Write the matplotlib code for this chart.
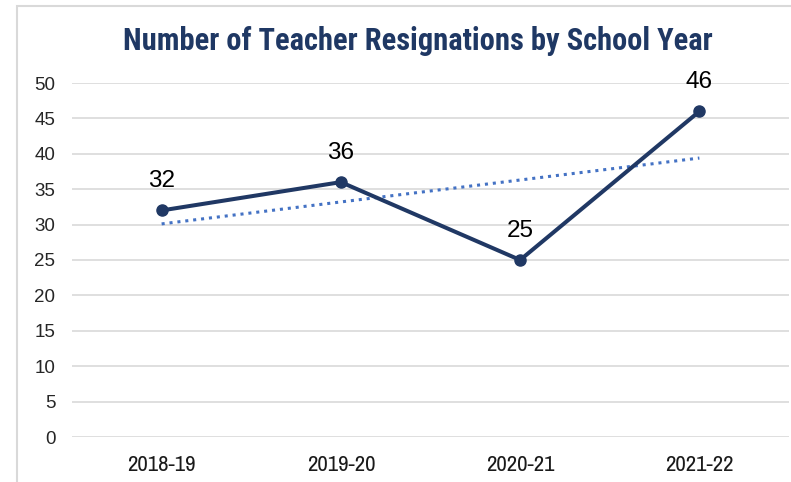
import matplotlib
matplotlib.use("Agg")
import matplotlib.pyplot as plt
from matplotlib.patches import Rectangle
import numpy as np

categories = ["2018-19", "2019-20", "2020-21", "2021-22"]
resignations = [32, 36, 25, 46]
yticks = [0, 5, 10, 15, 20, 25, 30, 35, 40, 45, 50]
title = "Number of Teacher Resignations by School Year"

NARROW = ["Archivo Narrow", "Roboto Condensed", "Asap Condensed", "DejaVu Sans"]
TITLEF = ["Roboto Condensed", "Asap Condensed", "DejaVu Sans"]
SANS = ["Liberation Sans", "DejaVu Sans"]

W, H = 791, 482
fig = plt.figure(figsize=(W / 100, H / 100), dpi=100)
fig.patch.set_facecolor("white")

# outer chart border
fig.add_artist(Rectangle((17 / W, -0.05), 1.2, 1 - 6 / H + 0.05, transform=fig.transFigure,
                         fill=False, edgecolor="#d9d9d9", linewidth=1.5))

ax = fig.add_axes([72 / W, 1 - 437 / H, 717 / W, 354 / H])
x = np.arange(len(categories))

ax.set_xlim(-0.5, len(categories) - 0.5)
ax.set_ylim(0, 50)
ax.set_yticks(yticks)
ax.set_xticks(x)
ax.set_xticklabels(categories)
ax.grid(axis="y", color="#d9d9d9", linewidth=1.2)
ax.set_axisbelow(True)
for s in ax.spines.values():
    s.set_visible(False)
ax.tick_params(axis="both", length=0)
ax.tick_params(axis="y", pad=12, labelsize=13.5, labelcolor="#262626")
for lbl in ax.get_yticklabels():
    lbl.set_fontfamily(SANS)
ax.tick_params(axis="x", pad=13, labelsize=16.5, labelcolor="#1a1a1a")
for lbl in ax.get_xticklabels():
    lbl.set_fontfamily(NARROW)

# trendline
coef = np.polyfit(x, resignations, 1)
ax.plot(x, np.polyval(coef, x), linestyle=(0, (1, 1.6)), color="#4472c4",
        linewidth=2.2, zorder=2)

ax.plot(x, resignations, color="#203864", linewidth=2.9, marker="o",
        markersize=8, zorder=3)

for xi, v in zip(x, resignations):
    ax.annotate(str(v), (xi, v), xytext=(0, 13), textcoords="offset points",
                ha="center", va="bottom", fontsize=17.5, color="#000000",
                family=SANS)

fig.text(418 / W, 1 - 41 / H, title, ha="center", va="center",
         fontsize=22, fontweight="bold", color="#1f3864", family=TITLEF)

fig.savefig("out.png", dpi=100)
